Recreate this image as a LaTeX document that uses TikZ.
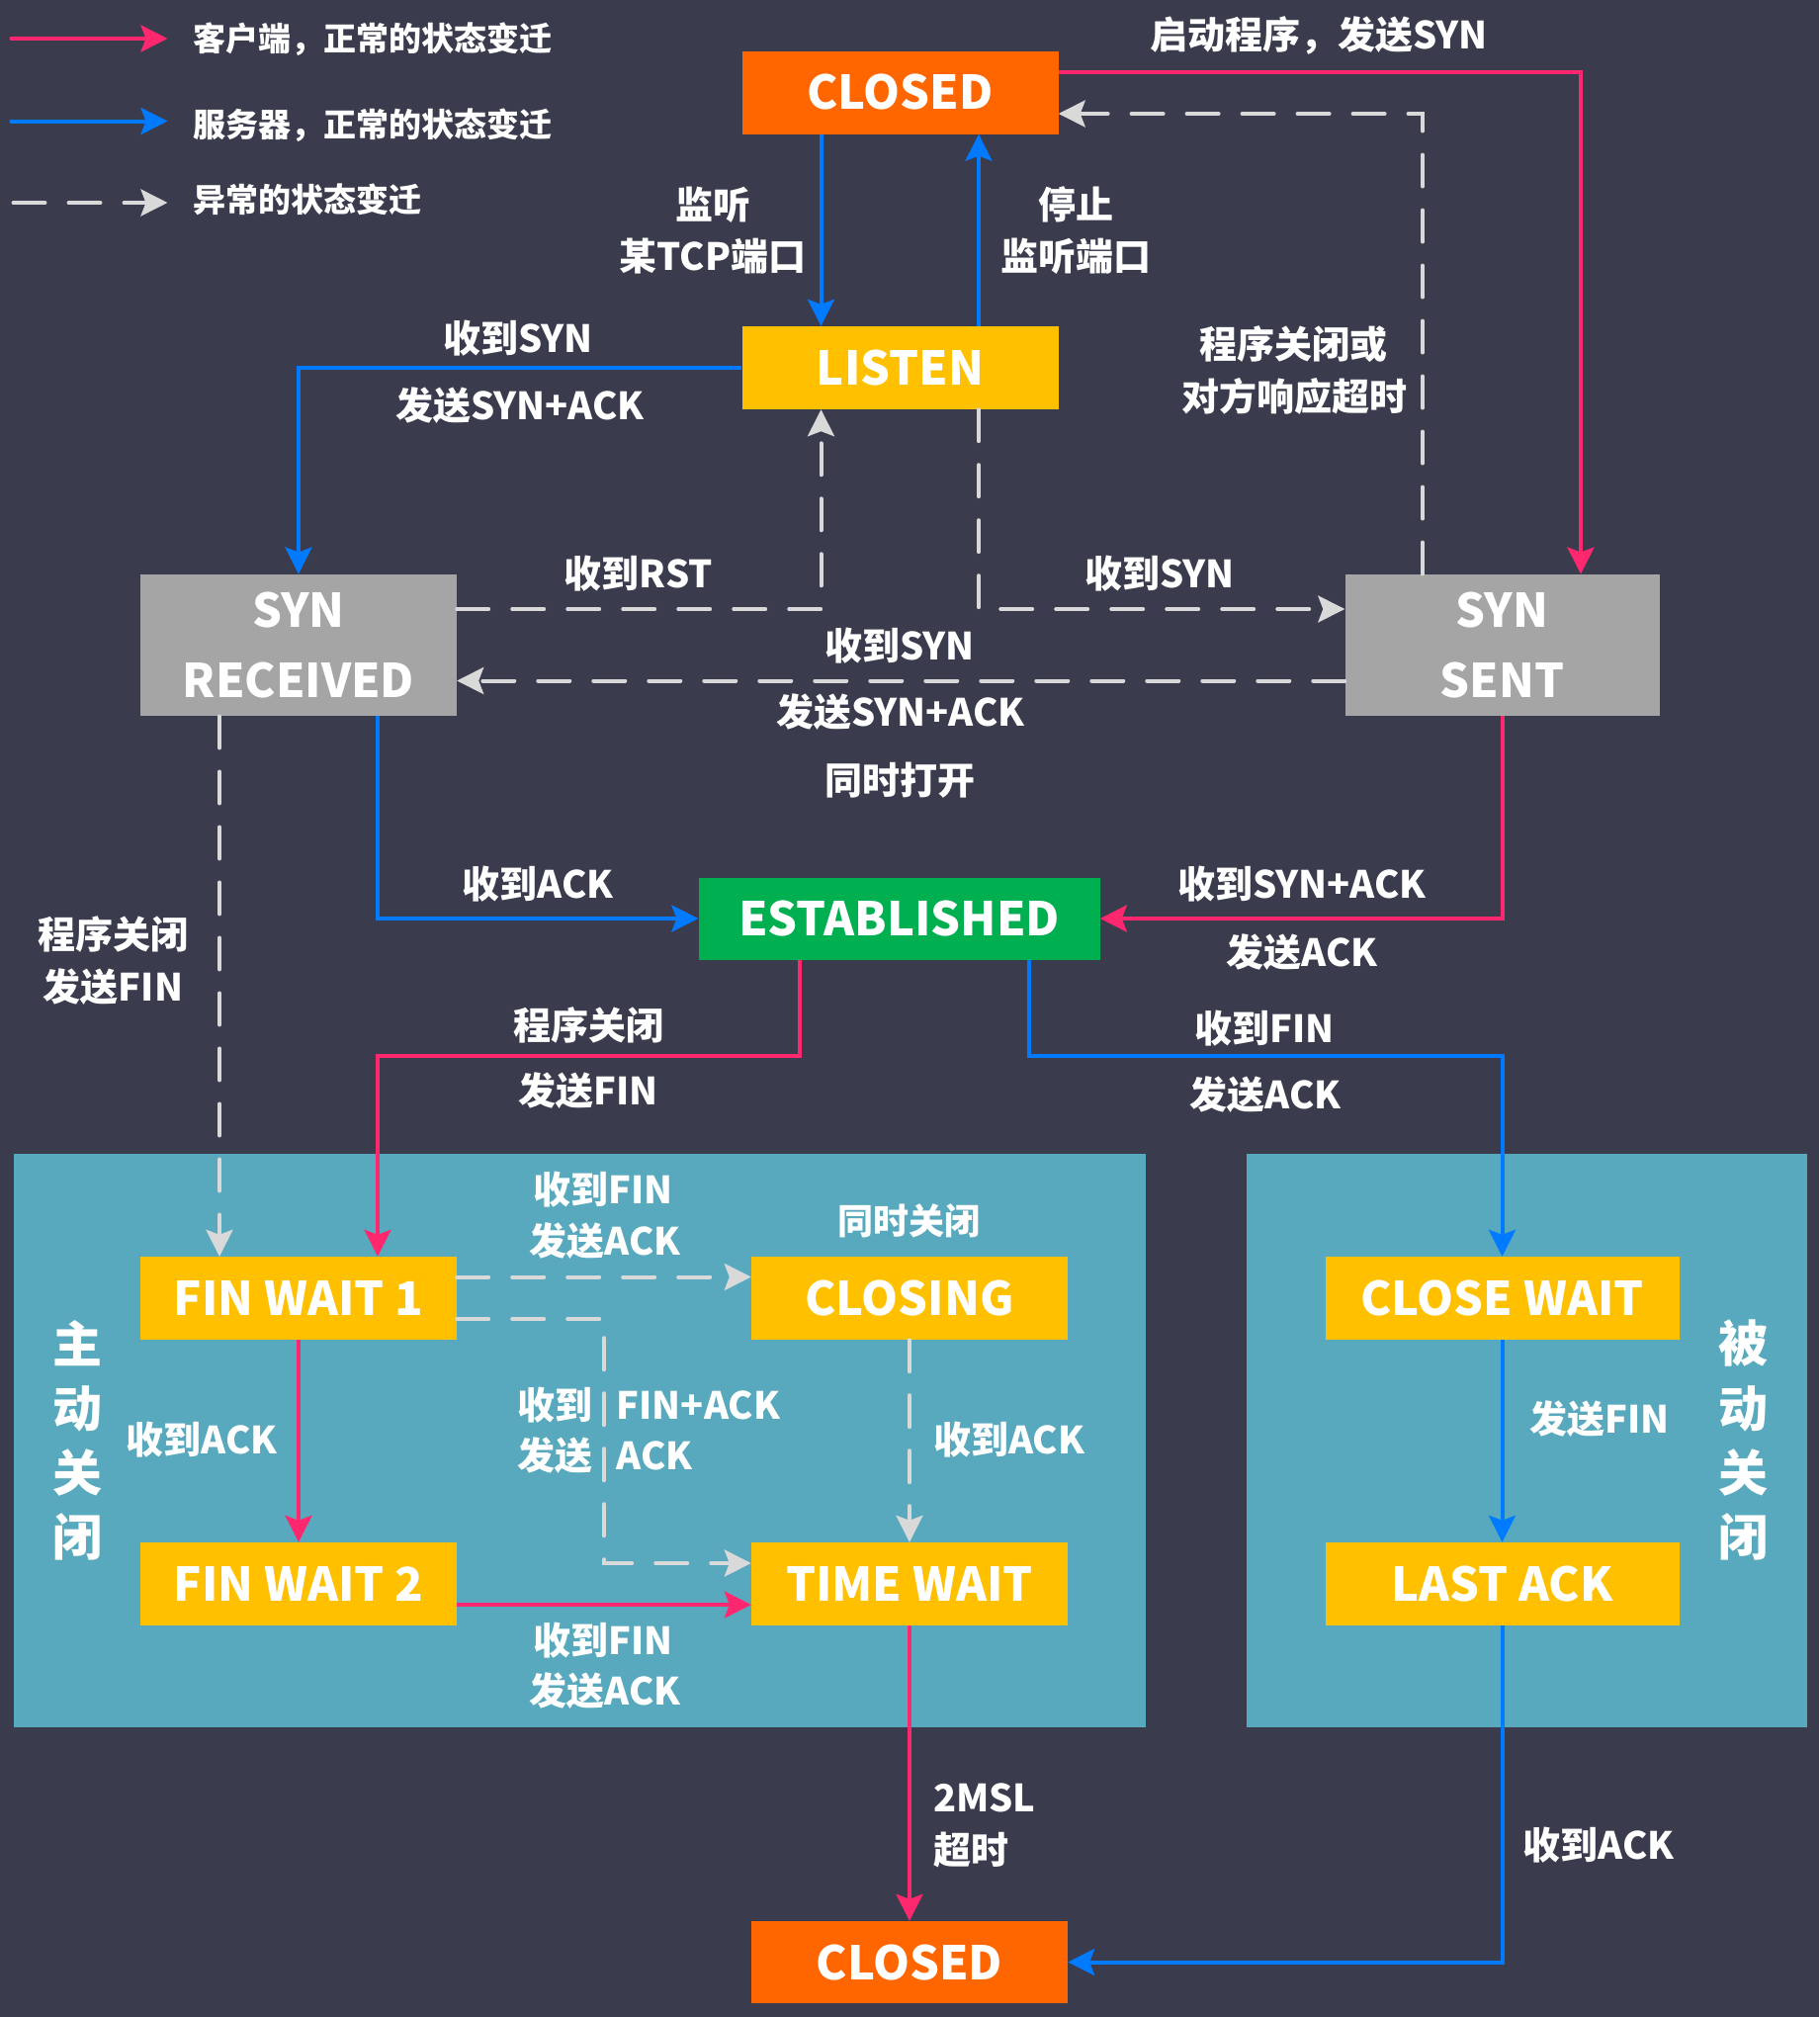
\documentclass[tikz,border=0pt]{standalone}
\usepackage{fontspec}
\setmainfont{Noto Sans CJK SC}
\usetikzlibrary{arrows.meta}
\definecolor{cbg}{RGB}{58,59,77}
\definecolor{cpanel}{RGB}{88,169,190}
\definecolor{corange}{RGB}{255,102,0}
\definecolor{cgold}{RGB}{255,192,0}
\definecolor{cgreen}{RGB}{0,176,80}
\definecolor{cgraybox}{RGB}{165,165,165}
\definecolor{cpink}{RGB}{255,40,110}
\definecolor{cblue}{RGB}{0,122,255}
\definecolor{cdash}{RGB}{217,217,217}
\begin{document}
\begin{tikzpicture}[x=1pt,y=-1pt,
  state/.style={rectangle,inner sep=0pt,minimum width=320pt,minimum height=84pt,text=white,font=\fontsize{47}{60}\selectfont\bfseries},
  lbl/.style={inner sep=0pt,text=white,font=\fontsize{38}{46}\selectfont\bfseries},
  lgd/.style={inner sep=0pt,text=white,anchor=west,font=\fontsize{33}{40}\selectfont\bfseries},
  side/.style={inner sep=0pt,text=white,font=\fontsize{50}{60}\selectfont\bfseries},
  tip/.style={-{Stealth[length=27pt,width=27pt,inset=5pt]}},
  pnk/.style={draw=cpink,line width=4pt,tip},
  blu/.style={draw=cblue,line width=4pt,tip},
  gry/.style={draw=cdash,line width=4pt,dash pattern=on 32pt off 24pt,line cap=round,tip}]
\useasboundingbox (0,0) rectangle (1840,2040);
\fill[cbg] (0,0) rectangle (1840,2040);
% panels
\fill[cpanel] (13.5,1167) rectangle (1158.5,1747);
\fill[cpanel] (1260.5,1167) rectangle (1827.5,1747);
% states
\node[state,fill=corange] (closedT) at (910.5,93.5) {CLOSED};
\node[state,fill=cgold] (listen) at (910.5,372) {LISTEN};
\node[state,fill=cgraybox,minimum height=143.5pt,align=center,font=\fontsize{47}{71.5}\selectfont\bfseries] (synrcvd) at (302,652.5) {SYN\\RECEIVED};
\node[state,fill=cgraybox,minimum width=318pt,minimum height=143.5pt,align=center,font=\fontsize{47}{71.5}\selectfont\bfseries] (synsent) at (1519.5,652.5) {SYN\\SENT};
\node[state,fill=cgreen,minimum width=406pt,minimum height=83pt] (estab) at (909.6,929) {ESTABLISHED};
\node[state,fill=cgold] (fw1) at (302,1313) {FIN WAIT 1};
\node[state,fill=cgold] (closing) at (920,1313) {CLOSING};
\node[state,fill=cgold] (fw2) at (302,1602) {FIN WAIT 2};
\node[state,fill=cgold] (timewait) at (920,1602) {TIME WAIT};
\node[state,fill=cgold,minimum width=358pt] (closewait) at (1519.5,1313) {CLOSE WAIT};
\node[state,fill=cgold,minimum width=358pt] (lastack) at (1519.5,1602) {LAST ACK};
\node[state,fill=corange,minimum height=83pt] (closedB) at (920,1984.5) {CLOSED};
% bend coordinates
\coordinate (bendA) at (600,1068);
\coordinate (bendB) at (1300,1068);
\coordinate (bendC) at (611,1450);
% connectors
\draw[blu] ([xshift=-80pt]closedT.south) -- ([xshift=-80pt]listen.north);
\draw[blu] ([xshift=79.5pt]listen.north) -- ([xshift=79.5pt]closedT.south);
\draw[pnk] ([yshift=21pt]closedT.east) -| ([xshift=79.5pt]synsent.north);
\draw[gry] ([xshift=-80.5pt]synsent.north) |- ([yshift=-21.5pt]closedT.east);
\draw[blu] (listen.west) -| (synrcvd.north);
\draw[gry] ([yshift=36.5pt]synrcvd.east) -| ([xshift=-80pt]listen.south);
\draw[gry] ([xshift=79.5pt]listen.south) |- ([yshift=36.5pt]synsent.west);
\draw[gry] ([yshift=-36pt]synsent.west) -- ([yshift=-36pt]synrcvd.east);
\draw[blu] ([xshift=80pt]synrcvd.south) |- (estab.west);
\draw[pnk] (synsent.south) |- (estab.east);
\draw[gry] ([xshift=-80pt]synrcvd.south) -- ([xshift=-80pt]fw1.north);
\draw[pnk] ([xshift=-100.5pt]estab.south) |- (bendA) -| ([xshift=80pt]fw1.north);
\draw[blu] ([xshift=131.5pt]estab.south) |- (bendB) -| (closewait.north);
\draw[gry] ([yshift=21.5pt]fw1.east) -- ([yshift=21.5pt]closing.west);
\draw[gry] ([yshift=-21pt]fw1.east) -| (bendC) |- ([yshift=21pt]timewait.west);
\draw[pnk] (fw1.south) -- (fw2.north);
\draw[gry] (closing.south) -- (timewait.north);
\draw[pnk] ([yshift=-21pt]fw2.east) -- ([yshift=-21pt]timewait.west);
\draw[pnk] (timewait.south) -- (closedB.north);
\draw[blu] (closewait.south) -- (lastack.north);
\draw[blu] (lastack.south) |- (closedB.east);
% legend
\coordinate (l1a) at (11.5,39); \coordinate (l1b) at (169.5,39);
\coordinate (l2a) at (11.5,122.5); \coordinate (l2b) at (169.5,122.5);
\coordinate (l3a) at (13.5,205); \coordinate (l3b) at (169.5,205);
\draw[pnk,line cap=round] (l1a) -- (l1b);
\draw[blu,line cap=round] (l2a) -- (l2b);
\draw[gry] (l3a) -- (l3b);
\node[lgd] (lg1) at (195,40) {客户端，正常的状态变迁};
\node[lgd] (lg2) at (195,126.5) {服务器，正常的状态变迁};
\node[lgd] (lg3) at (195,202) {异常的状态变迁};
% labels
\node[lbl] (t1) at (1334,36.5) {启动程序，发送SYN};
\node[lbl] (t2) at (721,207) {监听};
\node[lbl] (t3) at (721,259) {某TCP端口};
\node[lbl] (t4) at (1088,207) {停止};
\node[lbl] (t5) at (1088,259) {监听端口};
\node[lbl] (t6) at (1308,348) {程序关闭或};
\node[lbl] (t7) at (1309.5,401) {对方响应超时};
\node[lbl] (t8) at (524,342) {收到SYN};
\node[lbl] (t9) at (526,410) {发送SYN+ACK};
\node[lbl] (t10) at (646,580) {收到RST};
\node[lbl] (t11) at (1173,580) {收到SYN};
\node[lbl] (t12) at (910,653) {收到SYN};
\node[lbl] (t13) at (911,720) {发送SYN+ACK};
\node[lbl] (t14) at (910,789) {同时打开};
\node[lbl] (t15) at (544,894) {收到ACK};
\node[lbl] (t16) at (1317,894) {收到SYN+ACK};
\node[lbl] (t17) at (1317,963) {发送ACK};
\node[lbl] (t18) at (114.5,945) {程序关闭};
\node[lbl] (t19) at (114.5,998) {发送FIN};
\node[lbl] (t20) at (595,1037) {程序关闭};
\node[lbl] (t21) at (595,1103.5) {发送FIN};
\node[lbl] (t22) at (1279,1040) {收到FIN};
\node[lbl] (t23) at (1280,1107) {发送ACK};
\node[lbl] (t24) at (610,1203.5) {收到FIN};
\node[lbl] (t25) at (612,1255) {发送ACK};
\node[lbl,font=\fontsize{36}{44}\selectfont\bfseries] (t26) at (919,1235) {同时关闭};
\node[lbl] (t27) at (561.5,1421.5) {收到};
\node[lbl] (t28) at (561.5,1472.5) {发送};
\node[lbl,anchor=west] (t29) at (623.5,1421.5) {FIN+ACK};
\node[lbl,anchor=west] (t30) at (623.5,1472.5) {ACK};
\node[lbl] (t31) at (204,1456) {收到ACK};
\node[lbl] (t32) at (1020.5,1456) {收到ACK};
\node[lbl] (t33) at (610,1659) {收到FIN};
\node[lbl] (t34) at (612,1710.5) {发送ACK};
\node[lbl,anchor=west] (t35) at (944,1818.5) {2MSL};
\node[lbl,anchor=west] (t36) at (944,1871) {超时};
\node[lbl] (t37) at (1618,1435.5) {发送FIN};
\node[lbl] (t38) at (1617,1866) {收到ACK};
% side labels
\node[side] (s1) at (78,1358.5) {主};
\node[side] (s2) at (78,1424.5) {动};
\node[side] (s3) at (78,1489.5) {关};
\node[side] (s4) at (78,1554.5) {闭};
\node[side] (s5) at (1763.5,1358.5) {被};
\node[side] (s6) at (1763.5,1424.5) {动};
\node[side] (s7) at (1763.5,1489.5) {关};
\node[side] (s8) at (1763.5,1554.5) {闭};
\end{tikzpicture}
\end{document}
